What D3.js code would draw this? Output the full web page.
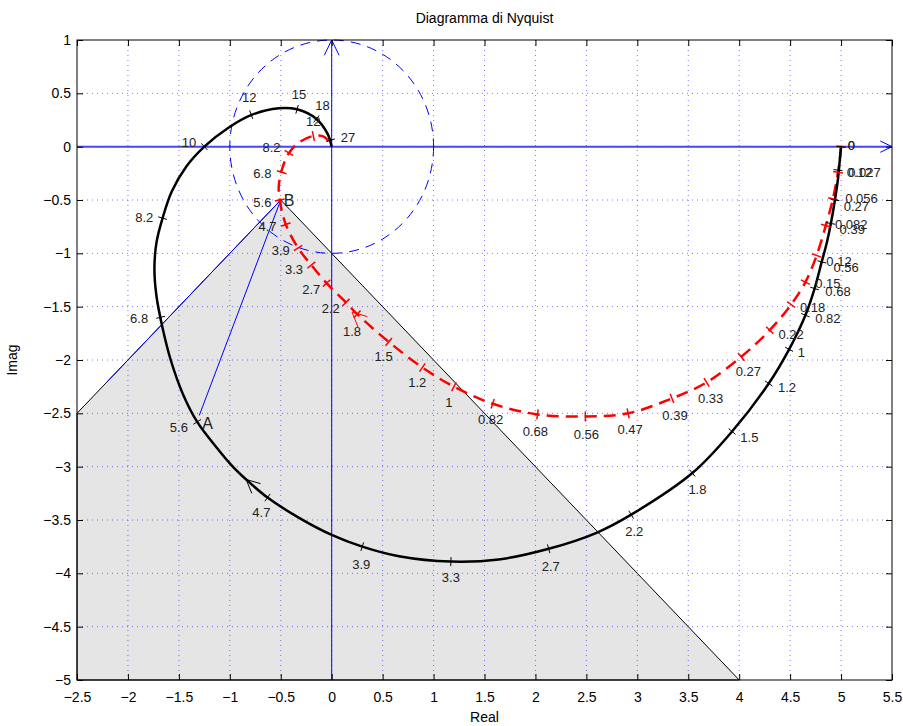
<!DOCTYPE html>
<html>
<head>
<meta charset="utf-8">
<script src="https://cdn.jsdelivr.net/npm/d3@7"></script>
<style>
  body { margin: 0; background: #fff; }
  text { font-family: "Liberation Sans", Arial, Helvetica, sans-serif; }
</style>
</head>
<body>
<svg id="chart" width="903" height="726"></svg>
<script>
// axis ticks
const xTicks = [-2.5, -2, -1.5, -1, -0.5, 0, 0.5, 1, 1.5, 2, 2.5, 3, 3.5, 4, 4.5, 5, 5.5];
const yTicks = [1, 0.5, 0, -0.5, -1, -1.5, -2, -2.5, -3, -3.5, -4, -4.5, -5];

// black curve (re, im)
const blackCurve = [
  [5, 0], [4.99, -0.1], [4.97, -0.3], [4.94, -0.5], [4.9, -0.72], [4.86, -0.9], [4.81, -1.08],
  [4.74, -1.33], [4.65, -1.58], [4.49, -1.9], [4.29, -2.22], [3.93, -2.67], [3.54, -3.06],
  [2.94, -3.45], [2.6, -3.62], [2.13, -3.77], [1.64, -3.87], [1.17, -3.89], [0.66, -3.84],
  [0.3, -3.75], [0, -3.64], [-0.32, -3.48], [-0.63, -3.29], [-0.84, -3.12], [-0.98, -2.99],
  [-1.13, -2.82], [-1.32, -2.58], [-1.46, -2.32], [-1.58, -2.0], [-1.66, -1.7], [-1.72, -1.4],
  [-1.74, -1.15], [-1.72, -0.9], [-1.66, -0.67], [-1.57, -0.42], [-1.43, -0.19], [-1.25, 0],
  [-1.01, 0.18], [-0.78, 0.3], [-0.52, 0.36], [-0.34, 0.35], [-0.15, 0.26], [-0.04, 0.12], [0, 0]
];
// red dashed curve (re, im)
const redCurve = [
  [5, 0], [4.99, -0.1], [4.97, -0.24], [4.92, -0.49], [4.85, -0.74], [4.76, -1.02],
  [4.65, -1.27], [4.51, -1.48], [4.3, -1.72], [4.02, -1.97], [3.68, -2.21], [3.34, -2.36],
  [2.91, -2.5], [2.49, -2.53], [2.02, -2.51], [1.58, -2.41], [1.2, -2.25], [0.89, -2.07],
  [0.56, -1.83], [0.25, -1.57], [0.14, -1.46], [-0.05, -1.28], [-0.2, -1.11], [-0.33, -0.95],
  [-0.45, -0.73], [-0.51, -0.5], [-0.52, -0.38], [-0.49, -0.22], [-0.42, -0.06], [-0.32, 0.04],
  [-0.18, 0.1], [-0.07, 0.09], [0, 0]
];

// frequency marks: [label, re, im] and label anchors [re, im]
const blackMarks = [
  ['0', 5, 0], ['0.12', 4.97, -0.22], ['0.27', 4.94, -0.5], ['0.39', 4.9, -0.72],
  ['0.56', 4.81, -1.08], ['0.68', 4.74, -1.33], ['0.82', 4.65, -1.58], ['1', 4.49, -1.9],
  ['1.2', 4.29, -2.22], ['1.5', 3.93, -2.67], ['1.8', 3.54, -3.06], ['2.2', 2.94, -3.45],
  ['2.7', 2.13, -3.77], ['3.3', 1.17, -3.89], ['3.9', 0.3, -3.75], ['4.7', -0.63, -3.29],
  ['5.6', -1.32, -2.58], ['6.8', -1.68, -1.6], ['8.2', -1.66, -0.67], ['10', -1.25, 0],
  ['12', -0.79, 0.3], ['15', -0.34, 0.35], ['18', -0.15, 0.26], ['27', -0.01, 0.06]
];
const blackLabelPos = [
  [5.1, 0.01], [5.18, -0.24], [5.15, -0.56], [5.11, -0.78], [5.05, -1.13], [4.97, -1.36],
  [4.87, -1.61], [4.61, -1.93], [4.47, -2.26], [4.1, -2.73], [3.59, -3.21], [2.97, -3.61],
  [2.15, -3.94], [1.17, -4.04], [0.29, -3.92], [-0.69, -3.43], [-1.5, -2.63], [-1.89, -1.61],
  [-1.84, -0.66], [-1.4, 0.04], [-0.81, 0.46], [-0.32, 0.49], [-0.09, 0.39], [0.16, 0.09]
];
const redMarks = [
  ['0', 5, 0], ['0.027', 4.97, -0.24], ['0.056', 4.92, -0.49], ['0.082', 4.85, -0.74],
  ['0.12', 4.76, -1.02], ['0.15', 4.65, -1.27], ['0.18', 4.51, -1.48], ['0.22', 4.3, -1.72],
  ['0.27', 4.02, -1.97], ['0.33', 3.68, -2.21], ['0.39', 3.34, -2.36], ['0.47', 2.91, -2.5],
  ['0.56', 2.49, -2.53], ['0.68', 2.02, -2.51], ['0.82', 1.58, -2.41], ['1', 1.2, -2.25],
  ['1.2', 0.89, -2.07], ['1.5', 0.56, -1.83], ['1.8', 0.25, -1.57], ['2.2', 0.14, -1.46],
  ['2.7', -0.05, -1.28], ['3.3', -0.2, -1.11], ['3.9', -0.33, -0.95], ['4.7', -0.45, -0.73],
  ['5.6', -0.51, -0.5], ['6.8', -0.49, -0.24], ['8.2', -0.42, -0.06], ['12', -0.18, 0.1]
];
const redLabelPos = [
  [5.1, 0.01], [5.23, -0.24], [5.2, -0.49], [5.1, -0.73], [4.98, -1.08], [4.87, -1.28],
  [4.72, -1.51], [4.51, -1.76], [4.09, -2.11], [3.72, -2.36], [3.37, -2.52], [2.93, -2.65],
  [2.5, -2.7], [2.0, -2.67], [1.56, -2.56], [1.15, -2.4], [0.84, -2.21], [0.51, -1.97],
  [0.2, -1.73], [-0.01, -1.52], [-0.2, -1.34], [-0.37, -1.15], [-0.5, -0.97], [-0.63, -0.75],
  [-0.68, -0.52], [-0.68, -0.25], [-0.59, -0.01], [-0.18, 0.24]
];

// construction: shaded region, points A and B
const region = [[-2.5, -2.5], [-0.5, -0.5], [4, -5], [-2.5, -5]];
const pointA = [-1.3, -2.52];
const pointB = [-0.5, -0.5];
const blackArrowAt = [-0.84, -3.12];
const redArrowAt = [0.2, -1.55];

const svg = d3.select('#chart');
const L = 77, R = 892, T = 40, B = 680;
const x = d3.scaleLinear().domain([-2.5, 5.5]).range([L, R]);
const y = d3.scaleLinear().domain([-5, 1]).range([B, T]);
const P = d => [x(d[0]), y(d[1])];
const fmt = d => String(d).replace('-', '\u2212');

svg.append('rect').attr('width', 903).attr('height', 726).attr('fill', '#fff');

// shaded region
svg.append('path')
  .attr('d', d3.line().x(d => x(d[0])).y(d => y(d[1]))(region) + 'Z')
  .attr('fill', '#e5e5e5').attr('stroke', '#000').attr('stroke-width', 1);

// grid
const grid = svg.append('g').attr('stroke', '#3c3cff').attr('stroke-opacity', 0.7)
  .attr('stroke-width', 1).attr('stroke-dasharray', '1,4');
grid.selectAll('.gx').data(xTicks.slice(1, -1)).join('line')
  .attr('x1', d => x(d)).attr('x2', d => x(d)).attr('y1', T).attr('y2', B);
grid.selectAll('.gy').data(yTicks.slice(1, -1)).join('line')
  .attr('y1', d => y(d)).attr('y2', d => y(d)).attr('x1', L).attr('x2', R);

function arrowHead(g, tip, ang, len, spread, color, w) {
  const pts = [
    [tip[0] - len * Math.cos(ang - spread), tip[1] - len * Math.sin(ang - spread)],
    tip,
    [tip[0] - len * Math.cos(ang + spread), tip[1] - len * Math.sin(ang + spread)]
  ];
  g.append('path').attr('d', d3.line()(pts)).attr('fill', 'none')
    .attr('stroke', color).attr('stroke-width', w);
}

// blue axes with arrows
const ax = svg.append('g');
ax.append('line').attr('x1', x(-2.5)).attr('x2', x(5.5)).attr('y1', y(0)).attr('y2', y(0))
  .attr('stroke', '#4646ff').attr('stroke-width', 2);
ax.append('line').attr('x1', x(0)).attr('x2', x(0)).attr('y1', y(1)).attr('y2', y(-5))
  .attr('stroke', '#0000ff').attr('stroke-width', 1);
arrowHead(ax, P([5.5, 0]), 0, 13, 0.45, '#0000ff', 1);
arrowHead(ax, P([0, 1]), -Math.PI / 2, 17, 0.45, '#0000ff', 1);

// unit circle
svg.append('ellipse').attr('cx', x(0)).attr('cy', y(0))
  .attr('rx', x(1) - x(0)).attr('ry', y(0) - y(1))
  .attr('fill', 'none').attr('stroke', '#0000ff').attr('stroke-width', 1)
  .attr('stroke-dasharray', '10,7');

// blue edge of region and A -> B vector
svg.append('line').attr('x1', x(-2.2)).attr('y1', y(-2.2)).attr('x2', x(pointB[0])).attr('y2', y(pointB[1]))
  .attr('stroke', '#0000ff').attr('stroke-width', 1);
const a = P(pointA), b = P(pointB);
svg.append('line').attr('x1', a[0]).attr('y1', a[1]).attr('x2', b[0]).attr('y2', b[1])
  .attr('stroke', '#0000ff').attr('stroke-width', 1);
arrowHead(svg, b, Math.atan2(b[1] - a[1], b[0] - a[0]), 11, 0.4, '#0000ff', 1);

const line = d3.line().x(d => x(d[0])).y(d => y(d[1])).curve(d3.curveCatmullRom.alpha(0.5));

// curves
svg.append('path').attr('d', line(redCurve)).attr('fill', 'none')
  .attr('stroke', '#ff0000').attr('stroke-width', 2.5).attr('stroke-dasharray', '12,7');
svg.append('path').attr('d', line(blackCurve)).attr('fill', 'none')
  .attr('stroke', '#000').attr('stroke-width', 2.5);

function tickDir(curve, pt) {
  const px = curve.map(P);
  let best = 0, bd = Infinity;
  px.forEach((q, i) => {
    const d = (q[0] - pt[0]) ** 2 + (q[1] - pt[1]) ** 2;
    if (d < bd) { bd = d; best = i; }
  });
  const i0 = Math.max(0, best - 1), i1 = Math.min(px.length - 1, best + 1);
  return Math.atan2(px[i1][1] - px[i0][1], px[i1][0] - px[i0][0]);
}

function drawMarks(curve, marks, labelPos, color, len, w) {
  const g = svg.append('g');
  marks.forEach((m, i) => {
    const p = P([m[1], m[2]]);
    const ang = tickDir(curve, p) + Math.PI / 2;
    const dx = Math.cos(ang) * len / 2, dy = Math.sin(ang) * len / 2;
    g.append('line').attr('x1', p[0] - dx).attr('y1', p[1] - dy)
      .attr('x2', p[0] + dx).attr('y2', p[1] + dy)
      .attr('stroke', color).attr('stroke-width', w);
    const lp = P(labelPos[i]);
    g.append('text').attr('x', lp[0]).attr('y', lp[1]).attr('dy', '0.35em')
      .attr('text-anchor', 'middle').attr('font-size', 13).attr('fill', '#222')
      .text(m[0]);
  });
}
drawMarks(redCurve, redMarks, redLabelPos, '#ff0000', 10, 1.5);
drawMarks(blackCurve, blackMarks, blackLabelPos, '#000', 9, 1);

// direction arrows
const ba = P(blackArrowAt);
arrowHead(svg, ba, tickDir(blackCurve, ba), 15, 0.45, '#000', 1);
const ra = P(redArrowAt);
arrowHead(svg, ra, tickDir(redCurve, ra), 16, 0.45, '#ff0000', 1);

// point labels
svg.append('text').attr('x', x(pointA[0]) + 3).attr('y', y(pointA[1]) + 14)
  .attr('font-size', 16).attr('fill', '#222').text('A');
svg.append('text').attr('x', x(pointB[0]) + 3).attr('y', y(pointB[1]) + 6)
  .attr('font-size', 16).attr('fill', '#222').text('B');

// axes box and ticks
function styleAxis(g) {
  g.select('.domain').remove();
  g.selectAll('line').attr('stroke', '#000');
  g.selectAll('text').attr('font-size', 14).attr('fill', '#000')
    .attr('font-family', '"Liberation Sans", Arial, Helvetica, sans-serif');
}
svg.append('g').attr('transform', `translate(0,${B})`)
  .call(d3.axisBottom(x).tickValues(xTicks).tickFormat(fmt).tickSizeInner(-6).tickSizeOuter(0).tickPadding(12))
  .call(styleAxis);
svg.append('g').attr('transform', `translate(0,${T})`)
  .call(d3.axisTop(x).tickValues(xTicks).tickFormat('').tickSizeInner(-6).tickSizeOuter(0))
  .call(styleAxis);
svg.append('g').attr('transform', `translate(${L},0)`)
  .call(d3.axisLeft(y).tickValues(yTicks).tickFormat(fmt).tickSizeInner(-6).tickSizeOuter(0).tickPadding(6))
  .call(styleAxis);
svg.append('g').attr('transform', `translate(${R},0)`)
  .call(d3.axisRight(y).tickValues(yTicks).tickFormat('').tickSizeInner(-6).tickSizeOuter(0))
  .call(styleAxis);
svg.append('rect').attr('x', L).attr('y', T).attr('width', R - L).attr('height', B - T)
  .attr('fill', 'none').attr('stroke', '#000').attr('stroke-width', 1);

// titles
svg.append('text').attr('x', (L + R) / 2).attr('y', 23).attr('text-anchor', 'middle')
  .attr('font-size', 14).text('Diagramma di Nyquist');
svg.append('text').attr('x', (L + R) / 2).attr('y', 722).attr('text-anchor', 'middle')
  .attr('font-size', 14).text('Real');
svg.append('text').attr('transform', `translate(17,${(T + B) / 2}) rotate(-90)`)
  .attr('text-anchor', 'middle').attr('font-size', 14).text('Imag');
</script>
</body>
</html>
